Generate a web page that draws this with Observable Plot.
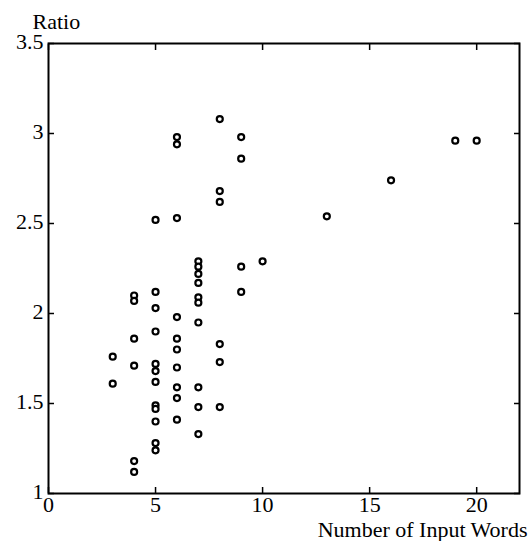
<!DOCTYPE html>
<html>
<head>
<meta charset="utf-8">
<script src="https://cdn.jsdelivr.net/npm/d3@7"></script>
<script src="https://cdn.jsdelivr.net/npm/@observablehq/plot@0.6"></script>
<style>
  html, body { margin: 0; padding: 0; background: white; }
  svg text { font-family: "Liberation Serif", "DejaVu Serif", serif; }
</style>
</head>
<body>
<div id="chart"></div>
<script>
// Number of input words (x) and ratio (y), one entry per point
const words = [
  3, 3,
  4, 4, 4, 4, 4, 4,
  5, 5, 5, 5, 5, 5, 5, 5, 5, 5, 5, 5,
  6, 6, 6, 6, 6, 6, 6, 6, 6, 6,
  7, 7, 7, 7, 7, 7, 7, 7, 7, 7,
  8, 8, 8, 8, 8, 8,
  9, 9, 9, 9,
  10, 13, 16, 19, 20
];
const ratios = [
  1.76, 1.61,
  2.10, 2.07, 1.86, 1.71, 1.18, 1.12,
  2.52, 2.12, 2.03, 1.90, 1.72, 1.68, 1.62, 1.49, 1.47, 1.40, 1.28, 1.24,
  2.98, 2.94, 2.53, 1.98, 1.86, 1.80, 1.70, 1.59, 1.53, 1.41,
  2.29, 2.26, 2.22, 2.17, 2.09, 2.06, 1.95, 1.59, 1.48, 1.33,
  3.08, 2.68, 2.62, 1.83, 1.73, 1.48,
  2.98, 2.86, 2.26, 2.12,
  2.29, 2.54, 2.74, 2.96, 2.96
];
const xTicks = [0, 5, 10, 15, 20];
const yTicks = [1, 1.5, 2, 2.5, 3, 3.5];
const xTitle = "Number of Input Words";
const yTitle = "Ratio";

const data = words.map((w, i) => ({words: w, ratio: ratios[i]}));
const fmt = d => String(d);
const none = () => "";

const chart = Plot.plot({
  width: 529,
  height: 541,
  marginLeft: 48,
  marginRight: 10,
  marginTop: 43,
  marginBottom: 48,
  style: {fontFamily: "Liberation Serif", fontSize: "22px", background: "white", color: "black"},
  x: {domain: [0, 22]},
  y: {domain: [1, 3.5]},
  marks: [
    Plot.frame({stroke: "black", strokeWidth: 2}),
    // inward ticks on all four sides
    Plot.axisX(xTicks, {anchor: "bottom", tickSize: 6, dy: -6, strokeWidth: 1.5, tickFormat: none, label: null}),
    Plot.axisX(xTicks, {anchor: "top", tickSize: 6, dy: 6, strokeWidth: 1.5, tickFormat: none, label: null}),
    Plot.axisY(yTicks, {anchor: "left", tickSize: 6, dx: 6, strokeWidth: 1.5, tickFormat: none, label: null}),
    Plot.axisY(yTicks, {anchor: "right", tickSize: 6, dx: -6, strokeWidth: 1.5, tickFormat: none, label: null}),
    // tick labels
    Plot.axisX(xTicks, {anchor: "bottom", tickSize: 0, tickPadding: 3, tickFormat: fmt, label: null, fill: "black"}),
    Plot.axisY(yTicks, {anchor: "left", tickSize: 0, tickPadding: 5, dy: -2, tickFormat: fmt, label: null, fill: "black"}),
    Plot.text([yTitle], {frameAnchor: "top-left", text: d => d, textAnchor: "start", lineAnchor: "bottom", dx: -16, dy: -15, fill: "black"}),
    Plot.text([xTitle], {frameAnchor: "bottom-right", text: d => d, textAnchor: "end", lineAnchor: "bottom", dx: 8, dy: 43, fill: "black"}),
    Plot.dot(data, {x: "words", y: "ratio", r: 3, stroke: "black", strokeWidth: 2.2, fill: "white"})
  ]
});
document.getElementById("chart").appendChild(chart);
</script>
</body>
</html>
